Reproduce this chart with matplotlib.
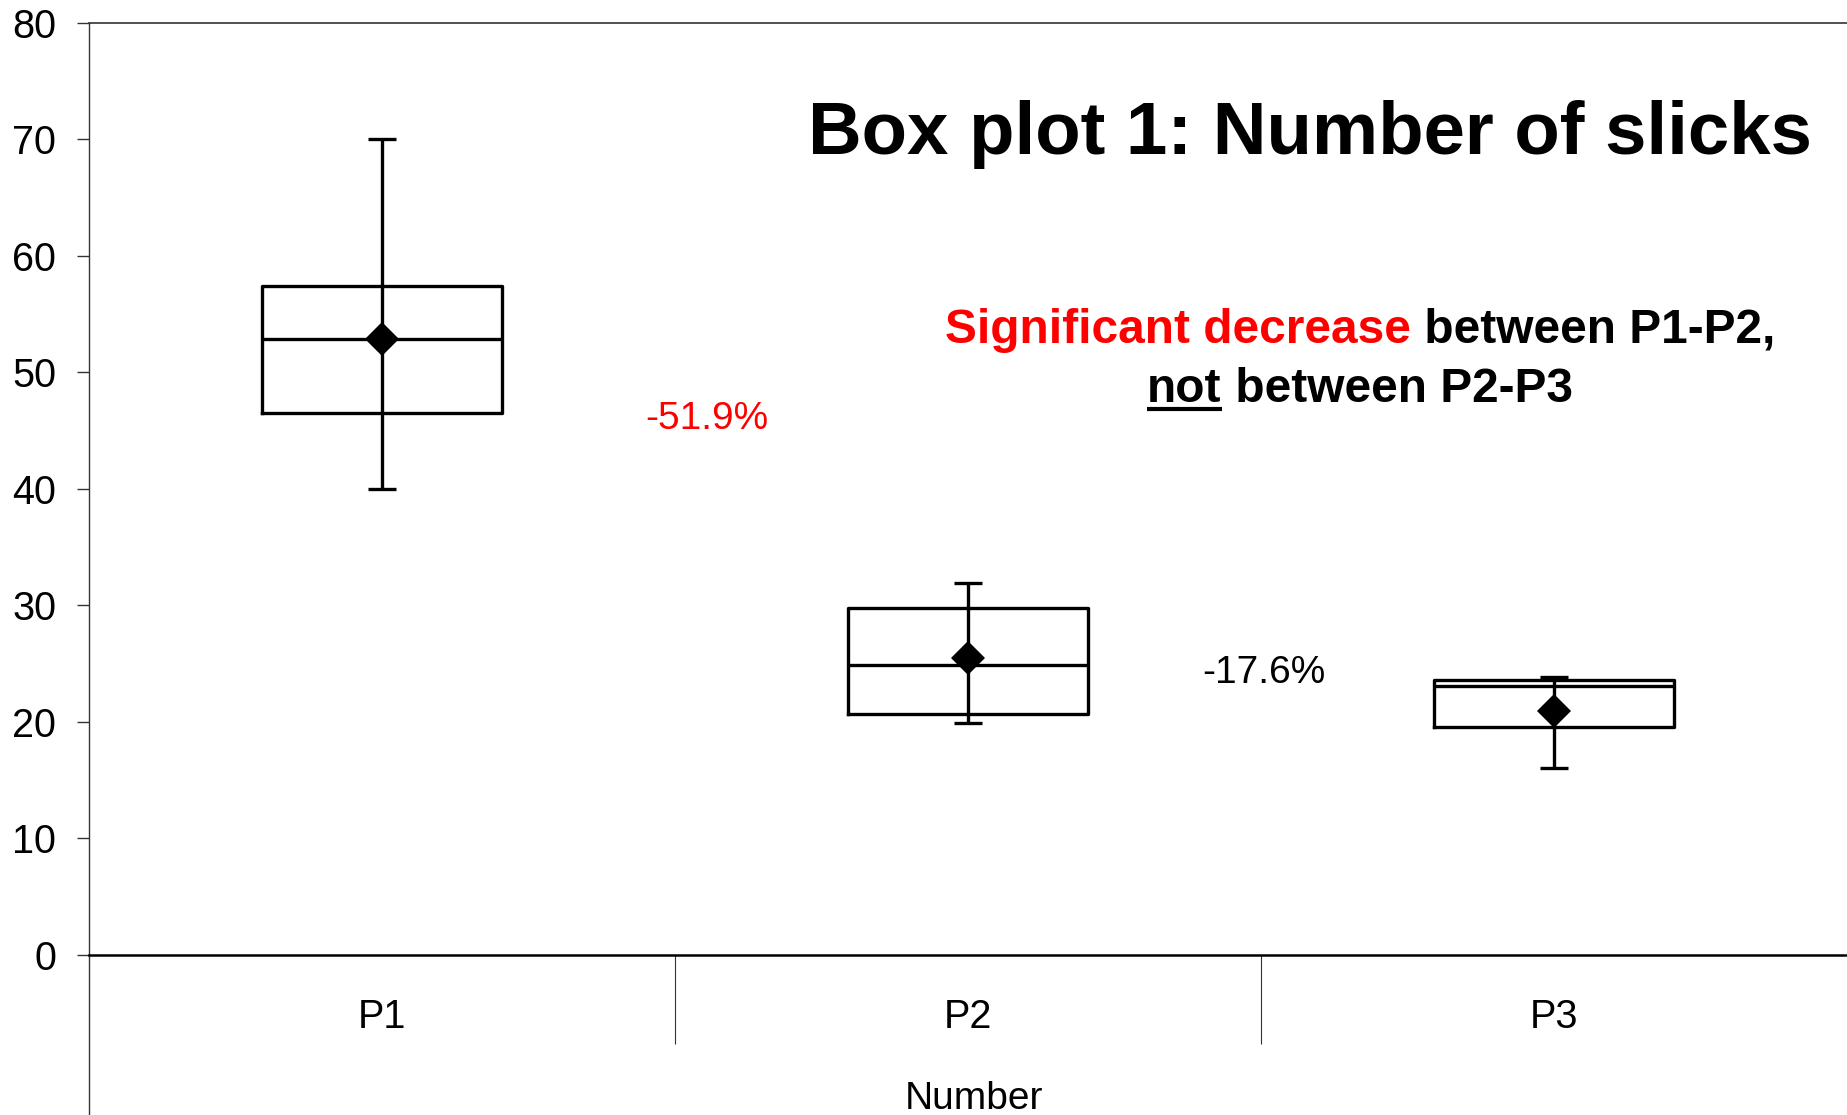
import numpy as np
import matplotlib
matplotlib.use('Agg')
import matplotlib.pyplot as plt
from matplotlib.lines import Line2D

plt.rcParams['font.family'] = ['Liberation Sans', 'DejaVu Sans']

# box plot values
categories = ['P1', 'P2', 'P3']
lows   = [40.0, 19.85, 16.05]
q1     = [46.5, 20.65, 19.55]
medians = [52.9, 24.9, 23.05]
q3     = [57.45, 29.75, 23.55]
highs  = [70.0, 31.9, 23.8]
means  = [52.9, 25.5, 20.9]
changes = ['-51.9%', '-17.6%']
change_colors = ['red', 'black']

W, H = 1847, 1115
fig = plt.figure(figsize=(W / 100, H / 100), dpi=100)
ax = fig.add_axes([89 / W, 0, 1 - 89 / W, 1 - 23 / H])

x = np.arange(len(categories))
stats = []
for i in range(len(categories)):
    stats.append(dict(med=medians[i], q1=q1[i], q3=q3[i],
                      whislo=lows[i], whishi=highs[i], fliers=[]))

ax.bxp(stats, positions=x, widths=0.408, showcaps=False, showfliers=False,
       whiskerprops=dict(linestyle='none'),
       boxprops=dict(color='black', linewidth=2.4),
       medianprops=dict(color='black', linewidth=2.4),
       manage_ticks=False)

m = np.array(means)
# high-low line with caps, through the box
ax.errorbar(x, m, yerr=[m - np.array(lows), np.array(highs) - m], fmt='none',
            ecolor='black', elinewidth=2.4, capsize=10, capthick=2.4,
            zorder=3)
ax.plot(x, m, 'D', color='black', ms=17.5, mew=0, zorder=4)

ax.set_xlim(-0.5, 2.5)
ax.set_ylim(-(H - 954.5) / 11.644, 80)

# y axis
ax.set_yticks(range(0, 81, 10))
ax.tick_params(axis='y', direction='out', length=8.6, width=1, color='#333333',
               labelsize=28.5, pad=15)
ax.spines['left'].set_color('#333333')
ax.spines['left'].set_linewidth(1)
ax.spines['top'].set_color('#333333')
ax.spines['top'].set_linewidth(1.2)
ax.spines['right'].set_visible(False)

# x axis sits at y = 0
ax.spines['bottom'].set_position(('data', 0))
ax.spines['bottom'].set_linewidth(1.8)
ax.set_xticks([0.5, 1.5])
ax.xaxis.set_major_formatter(plt.NullFormatter())
ax.tick_params(axis='x', which='major', direction='out', length=64, width=0.8,
               color='#333333')
ax.set_xticks(x, categories, minor=True)
ax.tick_params(axis='x', which='minor', length=0, labelsize=28.5, pad=31)
ax.set_xlabel('Number', fontsize=28, va='baseline')
ax.xaxis.set_label_coords((974 - 89) / (W - 89), (H - 1109) / (H - 23))

# percentage changes
ax.text(0.5546, 45.13, changes[0], color=change_colors[0], fontsize=28,
        ha='center', va='baseline')
ax.text(1.505, 23.3, changes[1], color=change_colors[1], fontsize=28,
        ha='center', va='baseline')

# title and note
fig.text(1310 / W, 1 - 154 / H, 'Box plot 1: Number of slicks', fontsize=53.6,
         fontweight='bold', ha='center', va='baseline')

t1 = fig.text(945 / W, 1 - 343 / H, 'Significant decrease', color='red',
              fontsize=34.5, fontweight='bold', ha='left', va='baseline')
t2 = fig.text(1147 / W, 1 - 401.7 / H, 'not', color='black', fontsize=34.5,
              fontweight='bold', ha='left', va='baseline')

fig.canvas.draw()
r = fig.canvas.get_renderer()
inv = fig.transFigure.inverted()
bb1 = t1.get_window_extent(r)
x0, _ = inv.transform((bb1.x1, 0))
fig.text(x0, 1 - 343 / H, ' between P1-P2,', color='black', fontsize=34.5,
         fontweight='bold', ha='left', va='baseline')
bb2 = t2.get_window_extent(r)
a, _ = inv.transform((bb2.x0, 0))
b, _ = inv.transform((bb2.x1, 0))
fig.add_artist(Line2D([a, b], [1 - 408.7 / H] * 2, color='black', lw=3,
                      solid_capstyle='butt', transform=fig.transFigure))
fig.text(b, 1 - 401.7 / H, ' between P2-P3', color='black', fontsize=34.5,
         fontweight='bold', ha='left', va='baseline')

plt.savefig('out.png', dpi=100)
